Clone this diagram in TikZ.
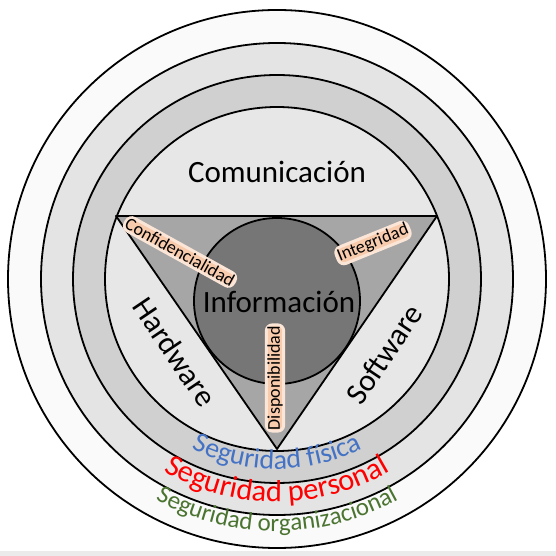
\documentclass[tikz,border=0pt]{standalone}
\usepackage{fontspec}
\setmainfont{Carlito}
\usepackage{tikz}
\usetikzlibrary{decorations.text}

\definecolor{ringout}{HTML}{FAFAFA}
\definecolor{ringmid}{HTML}{E4E4E4}
\definecolor{ringin}{HTML}{D0D0D0}
\definecolor{core}{HTML}{E7E7E7}
\definecolor{tri}{HTML}{A6A6A6}
\definecolor{info}{HTML}{767676}
\definecolor{glowc}{HTML}{F8CBAD}
\definecolor{fisica}{HTML}{4472C4}
\definecolor{personal}{HTML}{FF0000}
\definecolor{organiz}{HTML}{4B7431}
\definecolor{strip}{HTML}{EBEBEB}

\begin{document}
\begin{tikzpicture}[x=1pt,y=1pt,
  ring/.style={draw=black,line width=1.8pt},
  big/.style={font=\fontsize{31}{34}\selectfont,inner sep=0pt},
  glow/.style={fill=glowc,draw=glowc!50,line width=3pt,rounded corners=6pt,
    inner sep=1pt,font=\fontsize{18}{20}\selectfont}]
  \useasboundingbox (0,0) rectangle (556,556);
  \fill[strip] (0,0) rectangle (556,5);
  \coordinate (c) at (277,277);
  \draw[ring,fill=ringout] (c) circle (269);
  \draw[ring,fill=ringmid] (c) circle (236);
  \draw[ring,fill=ringin] (c) circle (204);
  \draw[ring,fill=core] (c) circle (172);
  % triangle and core
  \coordinate (tl) at (116,340);
  \coordinate (tr) at (437,340);
  \coordinate (bt) at (277,107);
  \draw[ring,line join=round,fill=tri] (tl) -- (tr) -- (bt) -- cycle;
  \coordinate (ic) at (277,255);
  \draw[ring,fill=info] (ic) circle (83);
  \node[big] (com) at (277,384) {Comunicación};
  \node[big] (inf) at (279,254) {Información};
  \node[big,rotate=-56] (hw) at (175,204) {Hardware};
  \node[big,rotate=56] (sw) at (384,202) {Software};
  \node[glow,rotate=-29] (conf) at (180,304) {Confidencialidad};
  \node[glow,rotate=22] (integ) at (373,313) {Integridad};
  \node[glow,rotate=90] (disp) at (275,178) {Disponibilidad};
  % ring labels
  \path[decorate,decoration={text along path,text align=center,
    text={|\color{fisica}\fontsize{28}{30}\selectfont|Seguridad física}}]
    ([shift={(200:190)}]c) arc[start angle=200,end angle=340,radius=190];
  \path[decorate,decoration={text along path,text align=center,
    text={|\color{personal}\fontsize{30.5}{33}\selectfont|Seguridad personal}}]
    ([shift={(200:223)}]c) arc[start angle=200,end angle=340,radius=223];
  \path[decorate,decoration={text along path,text align=center,
    text={|\color{organiz}\fontsize{25}{28}\selectfont|Seguridad organizacional}}]
    ([shift={(200:252)}]c) arc[start angle=200,end angle=340,radius=252];
\end{tikzpicture}
\end{document}
